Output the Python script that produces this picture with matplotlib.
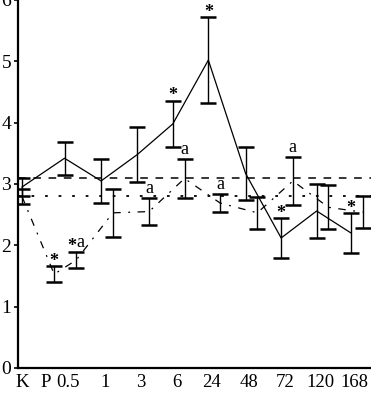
import matplotlib.pyplot as plt
import numpy as np

times = ['K', 'P', '0.5', '1', '3', '6', '24', '48', '72', '120', '168']
tick_pos = [0, 0.68, 1.3, 2.33, 3.35, 4.35, 5.35, 6.4, 7.4, 8.4, 9.37]

# series 1 (solid), no value at P
solid_mean = [2.95, None, 3.42, 3.05, 3.48, 3.98, 5.02, 3.17, 2.12, 2.56, 2.2]
solid_err = [0.15, None, 0.27, 0.36, 0.45, 0.38, 0.70, 0.43, 0.32, 0.44, 0.33]
solid_sig = ['', '', '', '', '', '*', '*', '', '*', '', '*']

# series 2 (dash-dot)
dd_mean = [2.8, 1.53, 1.76, 2.53, 2.55, 3.09, 2.69, 2.53, 3.05, 2.62, 2.54]
dd_err = [0.12, 0.13, 0.13, 0.39, 0.22, 0.32, 0.15, 0.26, 0.39, 0.36, 0.26]
dd_sig = ['', '*', '*a', '', 'a', 'a', 'a', '', 'a', '', '']

# reference levels
ref_dashed = 3.1
ref_dotted = 2.8

plt.rcParams['font.family'] = 'Liberation Serif'

fig = plt.figure(figsize=(3.71, 3.94), dpi=100)
ax = fig.add_axes([0.0485, 0.066, 0.9515, 0.934])

def series(means, errs, offset):
    xs, ys, es = [], [], []
    for i, (m, e) in enumerate(zip(means, errs)):
        if m is None:
            continue
        xs.append(tick_pos[i] + (offset if i > 0 else 0))
        ys.append(m)
        es.append(e)
    return np.array(xs), np.array(ys), np.array(es)

x1, y1, e1 = series(solid_mean, solid_err, -0.1)
x2, y2, e2 = series(dd_mean, dd_err, 0.23)

ax.axhline(ref_dashed, color='black', lw=1.1, ls=(0, (5, 5)))
ax.axhline(ref_dotted, color='black', lw=1.3, ls=(0, (1.5, 6)))

ax.plot(x1, y1, color='black', lw=0.9)
ax.errorbar(x1, y1, yerr=e1, fmt='none', ecolor='black', elinewidth=1.0,
            capsize=5.5, capthick=1.8)
ax.plot(x2, y2, color='black', lw=0.9, ls=(0, (6, 6, 1.5, 6)))
ax.errorbar(x2, y2, yerr=e2, fmt='none', ecolor='black', elinewidth=1.0,
            capsize=5.5, capthick=1.8)

# significance marks: '*' bold, 'a' plain
for means, errs, sigs, offset in [(solid_mean, solid_err, solid_sig, -0.1),
                                  (dd_mean, dd_err, dd_sig, 0.23)]:
    for i, s in enumerate(sigs):
        if not s:
            continue
        top = means[i] + errs[i]
        x = tick_pos[i] + offset
        if s == '*a':
            ax.text(x, top - 0.04, '*', ha='right', va='bottom', fontsize=13, fontweight='bold')
            ax.text(x, top + 0.02, 'a', ha='left', va='bottom', fontsize=13)
        elif s == '*':
            ax.text(x, top - 0.06, s, ha='center', va='bottom', fontsize=13, fontweight='bold')
        else:
            ax.text(x, top + 0.02, s, ha='center', va='bottom', fontsize=13)

ax.set_xlim(-0.11, 9.83)
ax.set_ylim(0, 6)
ax.set_xticks(tick_pos)
ax.set_xticklabels(times, fontsize=13.5)
ax.tick_params(axis='x', length=0, pad=4)
ax.set_yticks(range(0, 7))
ax.tick_params(axis='y', labelsize=14, length=3, width=1.2, pad=2)
ax.spines['top'].set_visible(False)
ax.spines['right'].set_visible(False)
ax.spines['left'].set_linewidth(1.6)
ax.spines['bottom'].set_linewidth(1.6)

plt.savefig('out.png', dpi=100)
